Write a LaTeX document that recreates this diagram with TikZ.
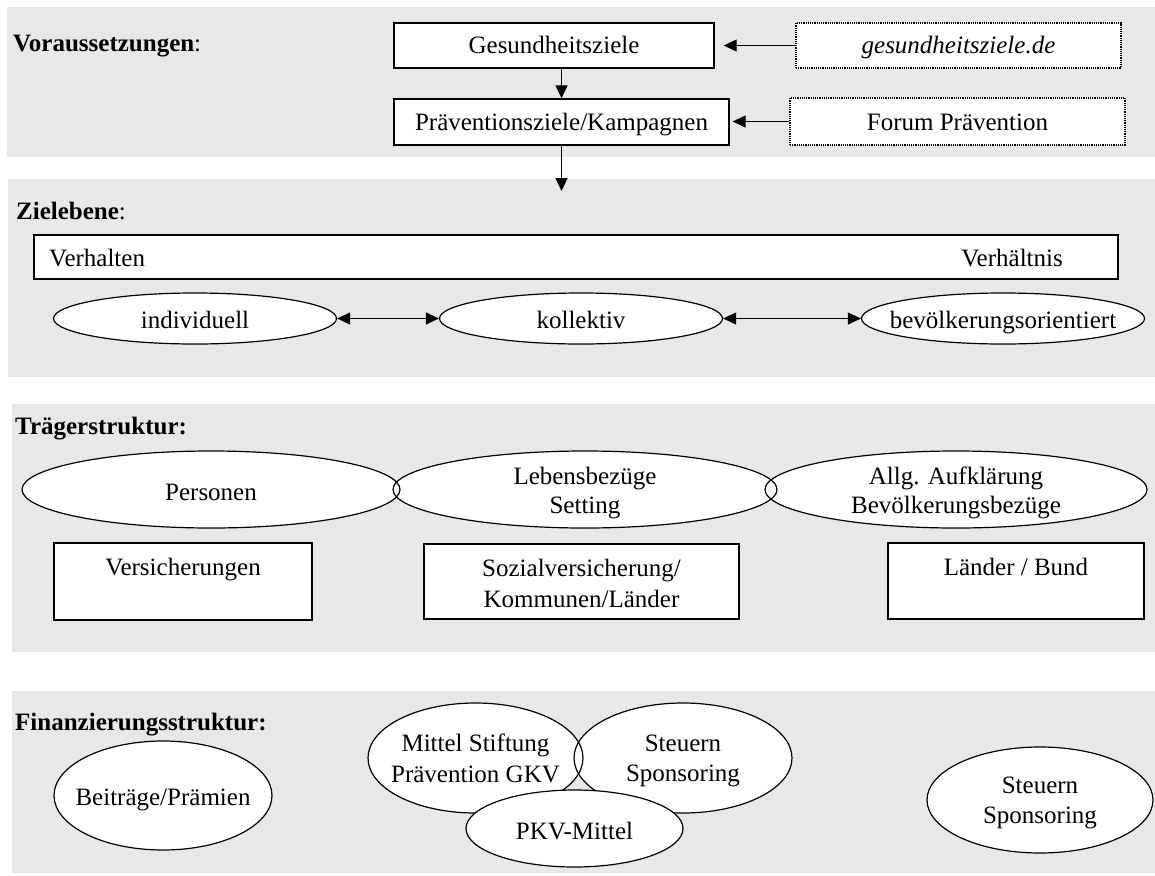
\documentclass[tikz,border=0pt]{standalone}
\usepackage{fontspec}
\setmainfont{Liberation Serif}
\usetikzlibrary{arrows.meta,shapes.geometric}
\definecolor{panel}{RGB}{232,232,232}
\begin{document}
\begin{tikzpicture}[x=1pt,y=-1pt,
  every node/.style={font=\fontsize{25}{29}\selectfont},
  one/.style={text height=17pt, text depth=0pt},
  box/.style={draw, fill=white, line width=1.3pt, inner sep=0pt, rectangle},
  dotbox/.style={draw, densely dotted, fill=white, line width=1.2pt, inner sep=0pt, rectangle},
  ell/.style={ellipse, fill=white, inner sep=0pt},
  ellline/.style={line width=1.2pt},
  arr/.style={line width=1.1pt, -{Triangle[length=13pt,width=12pt]}},
  darr/.style={line width=1.1pt, {Triangle[length=13pt,width=12pt]}-{Triangle[length=13pt,width=12pt]}},
  heading/.style={anchor=base west, inner sep=0pt},
  txt/.style={inner sep=0pt, align=center},
]
\useasboundingbox (0,0) rectangle (1155,875);
% panels
\fill[panel] (7,7) rectangle (1155,157);
\fill[panel] (8,179) rectangle (1155,377);
\fill[panel] (12,404) rectangle (1155,652);
\fill[panel] (12,691) rectangle (1155,873);

% ---------- Voraussetzungen ----------
\node[heading] (h1) at (13,52) {\textbf{Voraussetzungen}:};
\node[box, one, minimum width=320pt, minimum height=45pt] (g) at (554,45.5) {Gesundheitsziele};
\node[box, one, minimum width=335pt, minimum height=46pt] (p) at (561.5,122) {Präventionsziele/Kampagnen};
\node[dotbox, one, minimum width=325pt, minimum height=45pt] (gd) at (958.5,45.5) {\itshape gesundheitsziele.de};
\node[dotbox, one, minimum width=335pt, minimum height=47pt] (fp) at (957.5,121.5) {Forum Prävention};
\draw[arr, shorten >=9pt] (gd.west) -- (gd.west -| g.east);
\draw[arr, shorten >=3pt] (fp.west) -- (fp.west -| p.east);
\draw[arr] (g.south -| p.north) -- (p.north);
\coordinate (zdown) at (561.5,191);
\draw[arr] (p.south) -- (zdown);

% ---------- Zielebene ----------
\node[heading] (h2) at (16,219) {\textbf{Zielebene}:};
\node[box, minimum width=1084pt, minimum height=44pt] (zr) at (576,257) {};
\node[anchor=base west, inner sep=0pt] (verhalten) at (49,266) {Verhalten};
\node[anchor=base east, inner sep=0pt] (verhaeltnis) at (1063,266) {Verhältnis};
\node[ell, draw, line width=1.2pt, minimum width=283pt, minimum height=51pt] (ind) at (195,318.5) {};
\node[ell, draw, line width=1.2pt, minimum width=283pt, minimum height=51pt] (kol) at (581,318.5) {};
\node[ell, draw, line width=1.2pt, minimum width=283pt, minimum height=51pt] (bev) at (1003,318.5) {};
\node[txt, one] (tind) at (195,319.5) {individuell};
\node[txt, one] (tkol) at (581,319.5) {kollektiv};
\node[txt, one] (tbev) at (1003,319.5) {bevölkerungsorientiert};
\draw[darr] (ind.east) -- (kol.west);
\draw[darr] (kol.east) -- (bev.west);

% ---------- Traegerstruktur ----------
\node[heading] (h3) at (15,434) {\textbf{Trägerstruktur:}};
\node[ell, minimum width=378pt, minimum height=77pt] (pers) at (211,489.5) {};
\node[ell, minimum width=384pt, minimum height=77pt] (leb) at (585,489.5) {};
\node[ell, minimum width=382pt, minimum height=77pt] (allg) at (956,489.5) {};
\draw[ellline] (pers.center) ellipse [x radius=189pt, y radius=38.5pt];
\draw[ellline] (leb.center) ellipse [x radius=192pt, y radius=38.5pt];
\draw[ellline] (allg.center) ellipse [x radius=191pt, y radius=38.5pt];
\node[txt, one] (tpers) at (211,492) {Personen};
\node[txt] (tleb) at (585,493) {Lebensbezüge\\Setting};
\node[txt] (tallg) at (956,493) {Allg. Aufklärung\\Bevölkerungsbezüge};
\node[box, minimum width=258pt, minimum height=77pt] (vers) at (183,581.5) {};
\node[box, minimum width=315pt, minimum height=75pt] (soz) at (581.5,581.5) {};
\node[box, minimum width=256pt, minimum height=76pt] (lb) at (1016,581) {};
\node[anchor=base, inner sep=0pt] (tvers) at (183,575) {Versicherungen};
\node[txt, font=\fontsize{25}{31}\selectfont] (tsoz) at (581.5,583) {Sozialversicherung/\\Kommunen/Länder};
\node[anchor=base, inner sep=0pt] (tlb) at (1016,575) {Länder / Bund};

% ---------- Finanzierungsstruktur ----------
\node[heading] (h4) at (15,730) {\textbf{Finanzierungsstruktur:}};
\node[ell, draw, line width=1.2pt, minimum width=218pt, minimum height=109pt] (beit) at (163,795.5) {};
\node[txt, one] (tbeit) at (163,797) {Beiträge/Prämien};
\node[ell, minimum width=215pt, minimum height=110pt] (mit) at (475.5,758) {};
\node[ell, minimum width=218pt, minimum height=110pt] (st1) at (683,758) {};
\draw[ellline] (mit.center) ellipse [x radius=107.5pt, y radius=55pt];
\draw[ellline] (st1.center) ellipse [x radius=109pt, y radius=55pt];
\node[ell, draw, line width=1.2pt, minimum width=217pt, minimum height=77pt] (pkv) at (574.5,828.5) {};
\node[txt, font=\fontsize{25}{30.5}\selectfont] (tmit) at (475.5,758.5) {Mittel Stiftung\\Prävention GKV};
\node[txt, font=\fontsize{25}{30.5}\selectfont] (tst1) at (683,761) {Steuern\\Sponsoring};
\node[txt, one] (tpkv) at (574.5,830.5) {PKV-Mittel};
\node[ell, draw, line width=1.2pt, minimum width=226pt, minimum height=106pt] (st2) at (1040,800) {};
\node[txt, font=\fontsize{25}{30.5}\selectfont] (tst2) at (1040,803) {Steuern\\Sponsoring};
\end{tikzpicture}
\end{document}
